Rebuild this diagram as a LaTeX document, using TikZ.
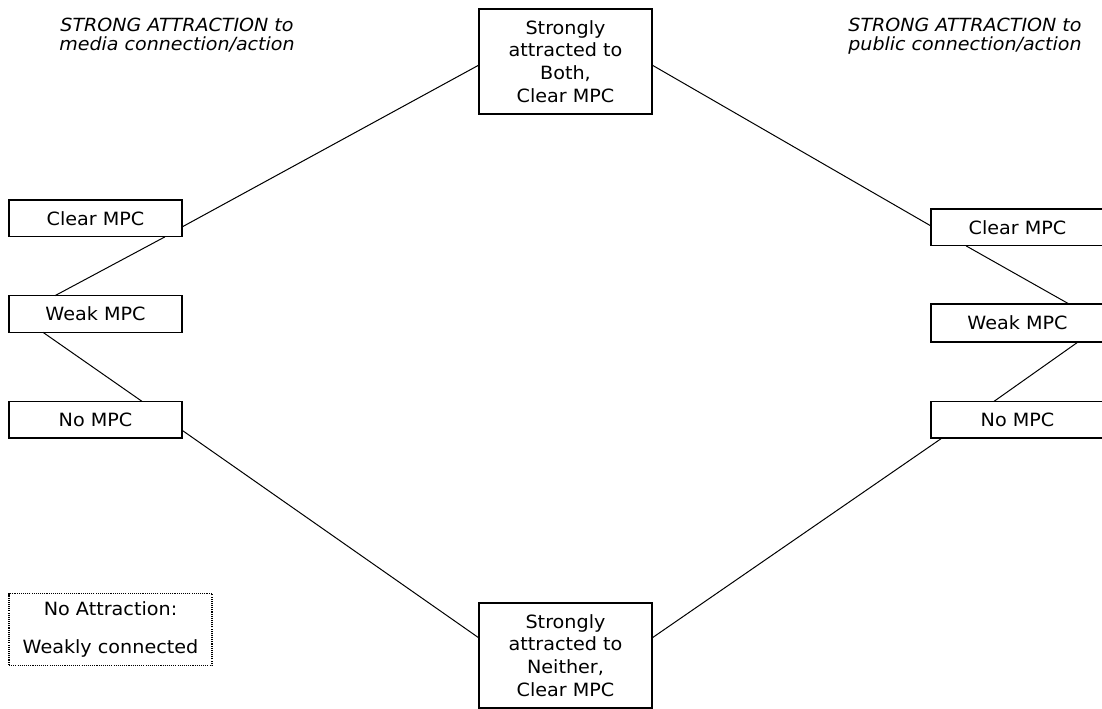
\documentclass[tikz,border=0pt]{standalone}
\usepackage{fontspec}
\setmainfont{DejaVu Sans}[FakeStretch=1.05]
\usetikzlibrary{calc}
\tikzset{
  boxtext/.style={font=\fontsize{13.7pt}{17pt}\selectfont, align=center},
  mbox/.style={draw, line width=1pt, inner sep=0pt, outer sep=0pt, minimum width=129.75pt, boxtext},
  bigbox/.style={mbox, minimum height=78.75pt},
  smallbox/.style={mbox, minimum height=27.5pt},
  legendbox/.style={draw, line width=0.8pt, dash pattern=on 0.8pt off 0.8pt, inner sep=0pt, outer sep=0pt,
    minimum width=152.25pt, minimum height=54pt, align=center, font=\fontsize{13.7pt}{28pt}\selectfont},
  header/.style={font=\fontsize{13.6pt}{13.7pt}\selectfont\itshape, align=center, inner sep=0pt},
  link/.style={line width=0.75pt}
}
\begin{document}
\begin{tikzpicture}[x=0.75pt,y=-0.75pt]
\useasboundingbox (0,0) rectangle (1102,709);
% headers
\node[header] (hl) at (177,35) {STRONG ATTRACTION to\\media connection/action};
\node[header] (hr) at (965,36.2) {STRONG ATTRACTION to\\public connection/action};
% main boxes
\node[bigbox] (top) at (565.5,61.5) {Strongly\\attracted to\\Both,\\Clear MPC};
\node[bigbox] (bot) at (565.5,655.5) {Strongly\\attracted to\\Neither,\\Clear MPC};
% left column
\node[smallbox] (lc) at (95.5,218.5) {Clear MPC};
\node[smallbox] (lw) at (95.5,314) {Weak MPC};
\node[smallbox] (ln) at (95.5,419.7) {No MPC};
% right column
\node[smallbox] (rc) at (1017.5,227.5) {Clear MPC};
\node[smallbox, minimum height=28.5pt] (rw) at (1017.5,323) {Weak MPC};
\node[smallbox] (rn) at (1017.5,419.7) {No MPC};
% legend
\node[legendbox] (leg) at (110.5,629.5) {No Attraction:\\Weakly connected};
% connectors left
\draw[link] ($(top.west)+(0,3.5)$) -- ($(lc.east)+(0,8.5)$);
\draw[link] ($(lc.south west)+(156,0)$) -- ($(lw.north west)+(46,0)$);
\draw[link] ($(lw.south west)+(34,0)$) -- ($(ln.north west)+(133,0)$);
\draw[link] ($(ln.east)+(0,10.5)$) -- ($(bot.west)+(0,-17.5)$);
% connectors right
\draw[link] ($(top.east)+(0,3.5)$) -- ($(rc.west)+(0,-1.5)$);
\draw[link] ($(rc.south west)+(35,0)$) -- ($(rw.north west)+(138,0)$);
\draw[link] ($(rw.south west)+(147,0)$) -- ($(rn.north west)+(63,0)$);
\draw[link] ($(rn.south west)+(11,0)$) -- ($(bot.east)+(0,-17.5)$);
\end{tikzpicture}
\end{document}
